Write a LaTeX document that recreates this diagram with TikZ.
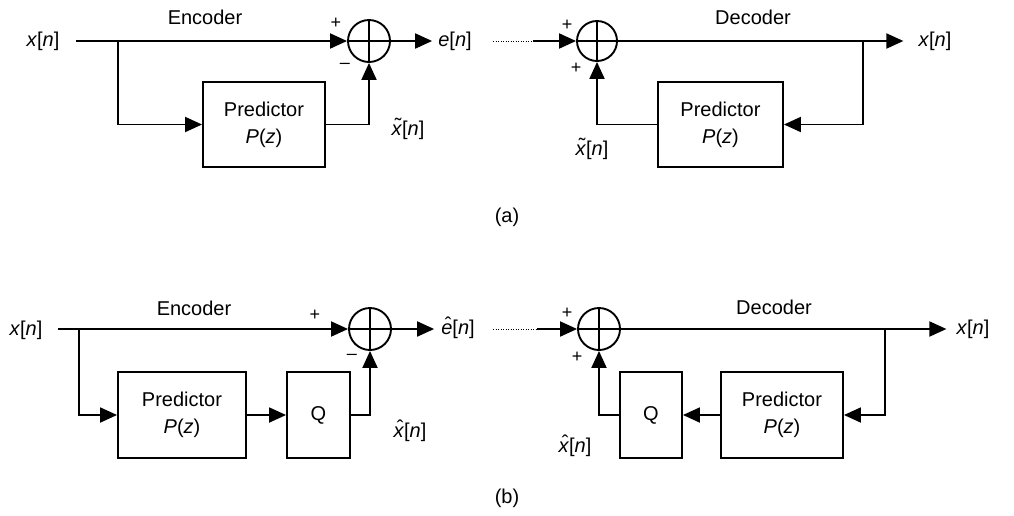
\documentclass[tikz,border=0pt]{standalone}
\usepackage{fontspec}
\setmainfont{Liberation Sans}
\usetikzlibrary{arrows.meta}
\newcommand\accmark[2]{{\ooalign{\textit{#1}\cr\hidewidth\kern0.12em\raisebox{0.12em}{#2}\hidewidth\cr}}}
\newcommand\tildex{\accmark{x}{\char"02DC}}
\newcommand\hatx{\accmark{x}{\char"02C6}}
\newcommand\hate{\accmark{e}{\char"02C6}}
\begin{document}
\begin{tikzpicture}[x=1pt,y=-1pt,
  ln/.style={line width=1.9pt},
  arr/.style={line width=1.9pt,-{Triangle[length=17pt,width=15pt]}},
  blk/.style={draw,line width=1.9pt,inner sep=0pt,align=center,font=\fontsize{20}{27}\selectfont},
  sumnode/.style={draw,circle,line width=1.9pt,minimum size=42pt,inner sep=0pt},
  lbl/.style={font=\fontsize{20}{24}\selectfont,inner sep=0pt},
  sgn/.style={font=\fontsize{18}{18}\selectfont,inner sep=0pt},
  dots/.style={line width=0.8pt,dash pattern=on 1pt off 1.5pt}]
\useasboundingbox (0,0) rectangle (1014,515);

% ---------- (a) encoder ----------
\node[lbl] (xa) at (43,41) {\textit{x}[\textit{n}]};
\coordinate (ia) at (76,41);
\coordinate (ba) at (118,41);
\node[sumnode] (sa) at (369,41) {};
\draw[ln] (sa.north) -- (sa.south) (sa.west) -- (sa.east);
\node[blk,minimum width=122pt,minimum height=85pt] (pa) at (264,124.5) {Predictor\\\textit{P}(\textit{z})};
\draw[arr] (ia) -- (sa.west);
\draw[arr] (ba) |- (pa.west);
\draw[arr] (pa.east) -| (sa.south);
\node[lbl] (ea) at (455,41) {\textit{e}[\textit{n}]};
\draw[arr] (sa.east) -- ([xshift=-6pt]ea.west);
\node[lbl] (enca) at (205,17) {Encoder};
\node[sgn] (pla) at (336,23) {+};
\node[sgn] (mia) at (345,66) {–};
\node[lbl] (xta) at (408,130) {\tildex[\textit{n}]};

% ---------- (a) decoder ----------
\coordinate (da0) at (493,41);
\coordinate (da1) at (533,41);
\draw[dots] (da0) -- (da1);
\node[sumnode,minimum size=40pt] (sb) at (597,41) {};
\draw[ln] (sb.north) -- (sb.south) (sb.west) -- (sb.east);
\draw[arr] (da1) -- (sb.west);
\node[lbl] (xb) at (935,41) {\textit{x}[\textit{n}]};
\draw[arr] (sb.east) -- ([xshift=-15pt]xb.west);
\coordinate (bb) at (863,41);
\node[blk,minimum width=125pt,minimum height=85pt] (pb) at (720.5,124.5) {Predictor\\\textit{P}(\textit{z})};
\draw[arr] (bb) |- (pb.east);
\draw[arr] (pb.west) -| (sb.south);
\node[lbl] (decb) at (753,17) {Decoder};
\node[sgn] (plb1) at (567,25) {+};
\node[sgn] (plb2) at (576,68) {+};
\node[lbl] (xtb) at (592,150) {\tildex[\textit{n}]};
\node[lbl] (capa) at (507,217) {(a)};

% ---------- (b) encoder ----------
\node[lbl] (xc) at (26,330) {\textit{x}[\textit{n}]};
\coordinate (ic) at (58,329);
\coordinate (bc) at (79,329);
\node[sumnode] (sc) at (370,329) {};
\draw[ln] (sc.north) -- (sc.south) (sc.west) -- (sc.east);
\node[blk,minimum width=128pt,minimum height=86pt] (pc) at (182,415) {Predictor\\\textit{P}(\textit{z})};
\node[blk,minimum width=63pt,minimum height=86pt] (qc) at (318.5,415) {Q};
\draw[arr] (ic) -- (sc.west);
\draw[arr] (bc) |- (pc.west);
\draw[arr] (pc.east) -- (qc.west);
\draw[arr] (qc.east) -| (sc.south);
\node[lbl] (ec) at (458,329) {\hate[\textit{n}]};
\draw[arr] (sc.east) -- ([xshift=-7pt]ec.west);
\node[lbl] (encc) at (194,308) {Encoder};
\node[sgn] (plc) at (315,315) {+};
\node[sgn] (mic) at (352,357) {–};
\node[lbl] (xhc) at (410,432) {\hatx[\textit{n}]};

% ---------- (b) decoder ----------
\coordinate (dd0) at (493,329);
\coordinate (dd1) at (537,329);
\draw[dots] (dd0) -- (dd1);
\node[sumnode] (sd) at (599,329) {};
\draw[ln] (sd.north) -- (sd.south) (sd.west) -- (sd.east);
\draw[arr] (dd1) -- (sd.west);
\node[lbl] (xd) at (973,329) {\textit{x}[\textit{n}]};
\draw[arr] (sd.east) -- ([xshift=-10pt]xd.west);
\coordinate (bd) at (885,329);
\node[blk,minimum width=122pt,minimum height=86pt] (pd) at (782,415) {Predictor\\\textit{P}(\textit{z})};
\node[blk,minimum width=62pt,minimum height=86pt] (qd) at (651,415) {Q};
\draw[arr] (bd) |- (pd.east);
\draw[arr] (pd.west) -- (qd.east);
\draw[arr] (qd.west) -| (sd.south);
\node[lbl] (decd) at (774,307) {Decoder};
\node[sgn] (pld1) at (567,313) {+};
\node[sgn] (pld2) at (577,357) {+};
\node[lbl] (xhd) at (575,447) {\hatx[\textit{n}]};
\node[lbl] (capb) at (507,498) {(b)};
\end{tikzpicture}
\end{document}
